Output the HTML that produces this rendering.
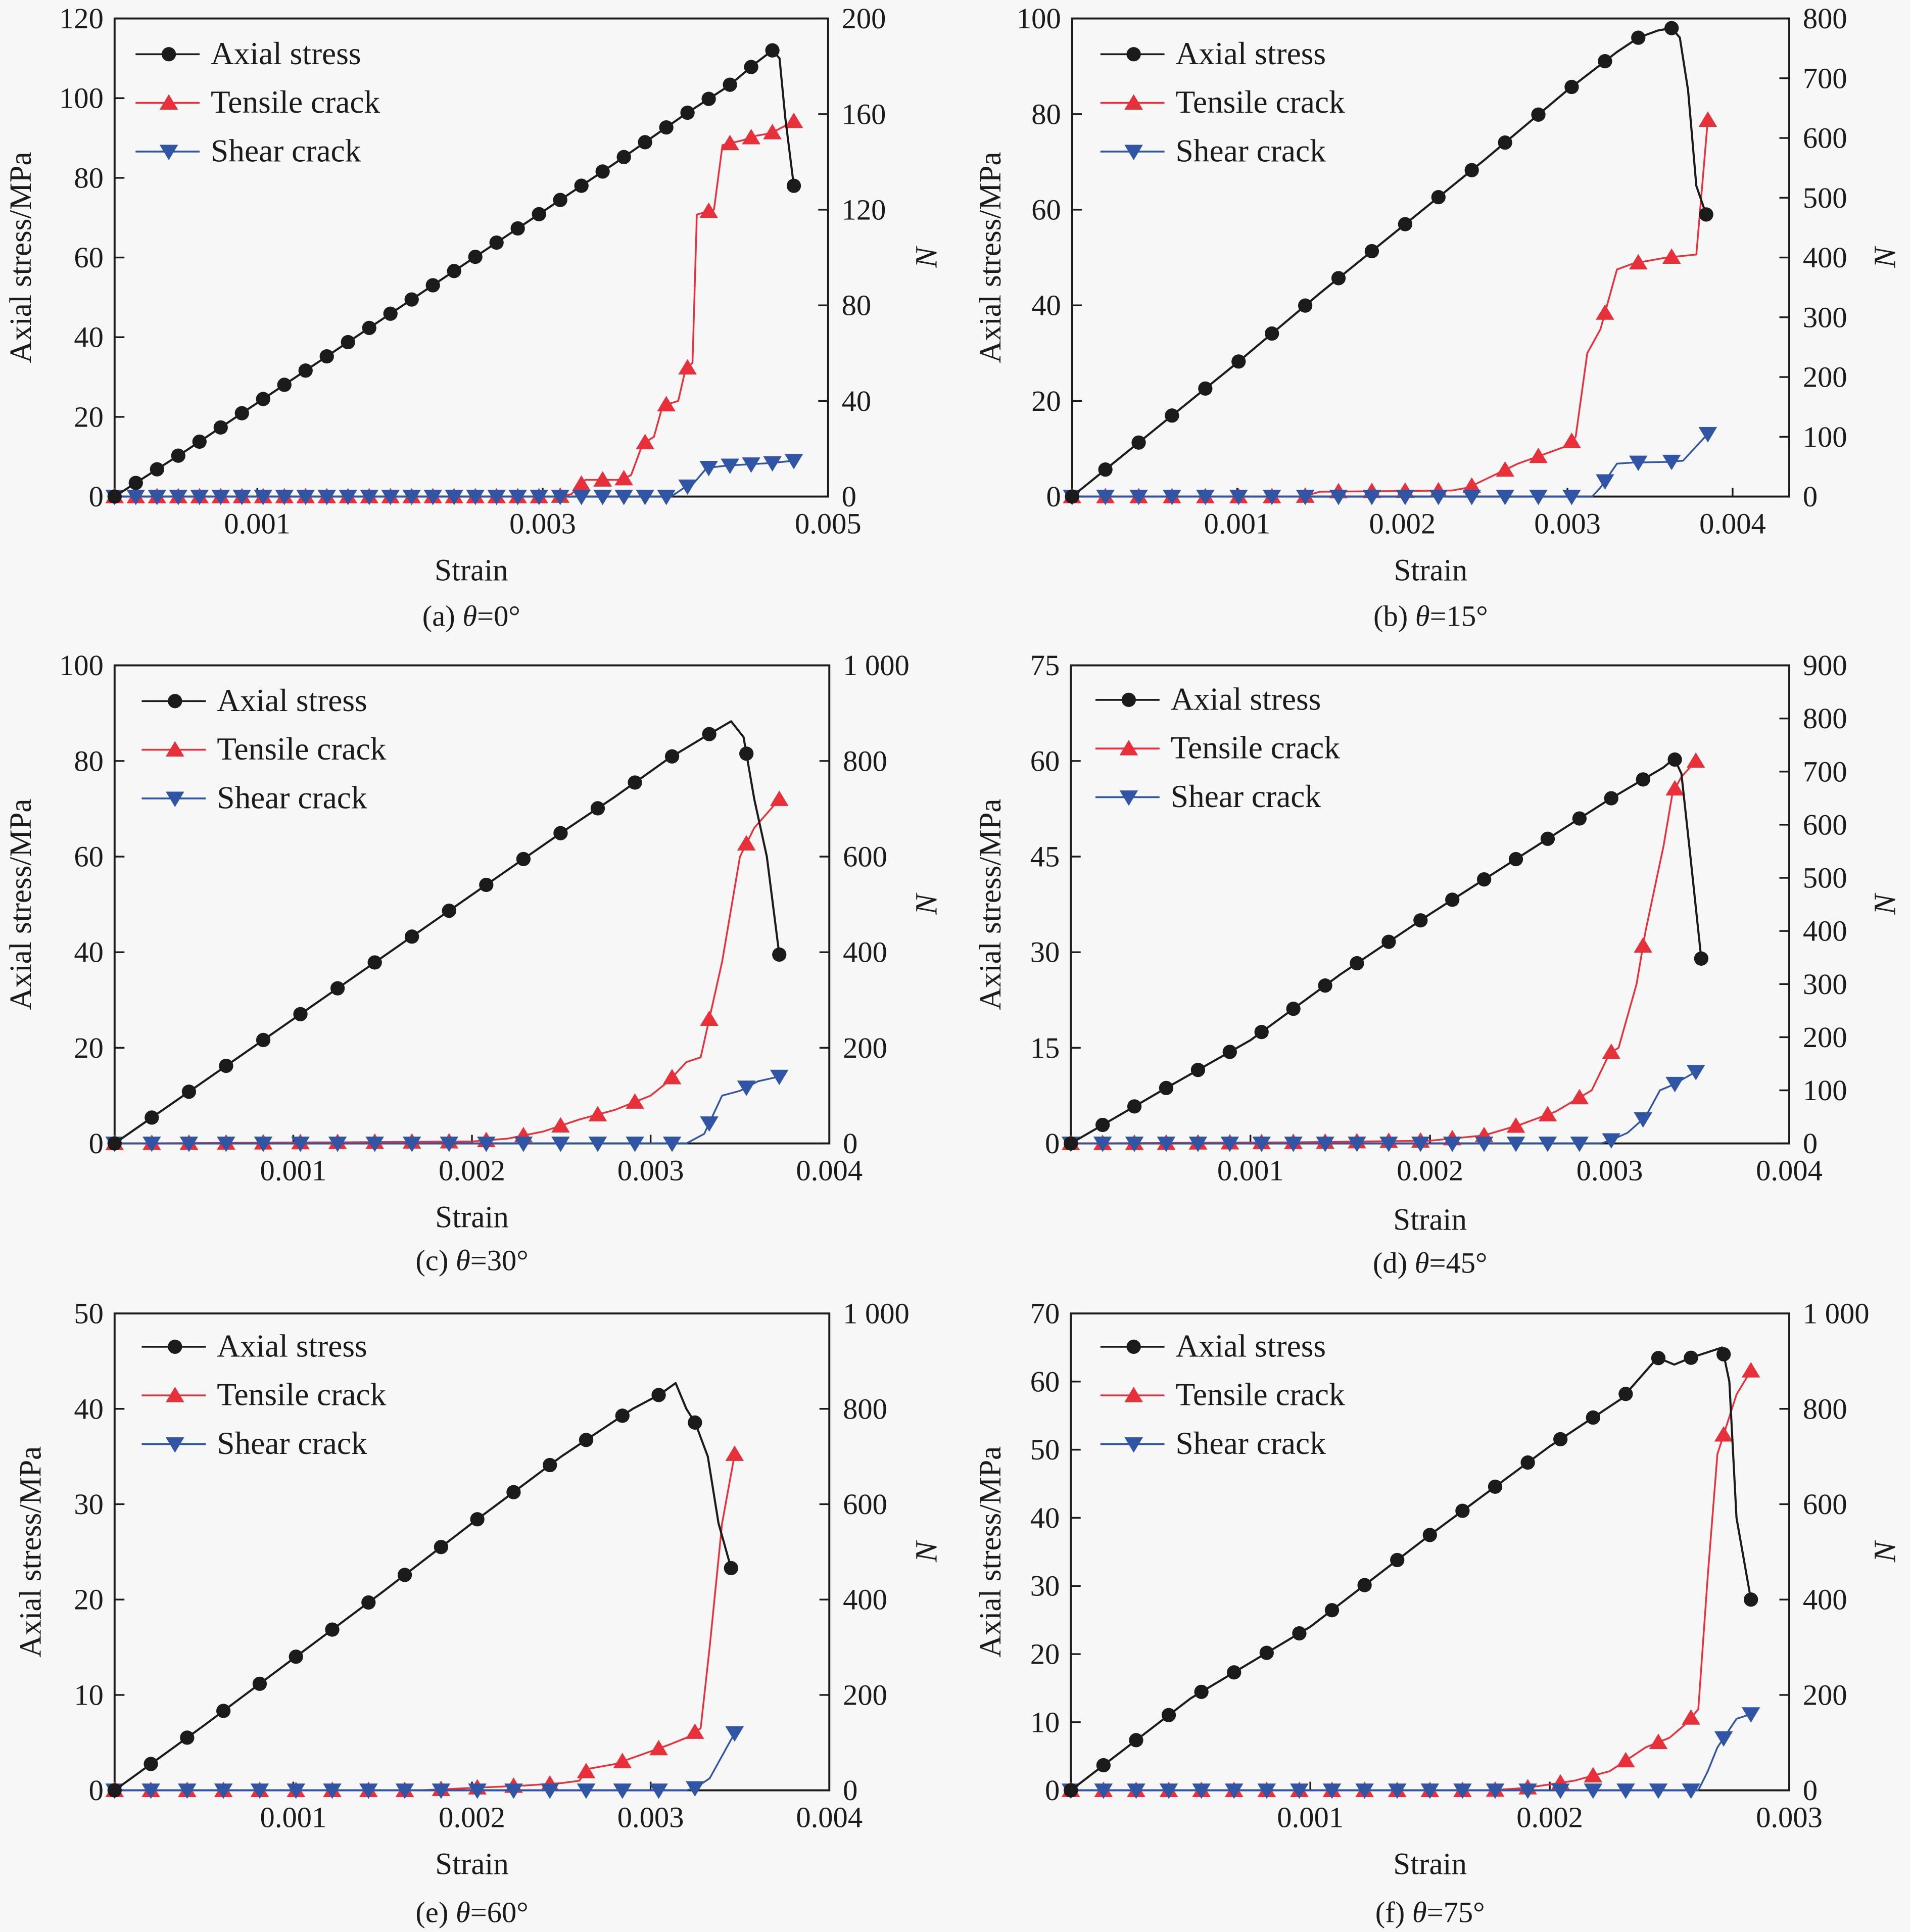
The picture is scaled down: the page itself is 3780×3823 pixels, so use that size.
<!DOCTYPE html>
<html><head><meta charset="utf-8"><style>
html,body{margin:0;padding:0;background:#f7f7f7;}
svg{display:block;}
svg text{font-family:"Liberation Serif","Times New Roman",serif;}
</style></head><body>
<svg id="chart" xmlns="http://www.w3.org/2000/svg" width="3780" height="3823" viewBox="0 0 1550 1568" preserveAspectRatio="none" font-family="Liberation Serif, serif">
<rect x="0" y="0" width="1550" height="1568" fill="#f7f7f7"/>
</svg>
<script>
// ===== Data (strain in units of 0.001) =====
const aStrainA=[0,0.5,1,1.5,2,2.5,3,3.5,4,4.3,4.5,4.61,4.66,4.7,4.76];
const aStressA=[0,11.5,23.5,35.5,47.5,59.5,71.5,83.5,96,103,109,112,110,95,78];
const tStrainA=[0,3.1,3.2,3.3,3.55,3.62,3.7,3.78,3.84,3.95,4.0,4.05,4.08,4.2,4.26,4.4,4.5,4.6,4.76];
const tCountA=[0,0,1,7,7,9,22,25,38,40,53,56,118,120,147,149,151,152,157];
const sStrainA=[0,3.9,4.0,4.05,4.15,4.3,4.6,4.76];
const sCountA=[0,0,4,5,12,13,14,15];

const aStrainB=[0,0.5,1,1.5,2,2.5,3,3.3,3.43,3.55,3.63,3.68,3.73,3.78,3.84];
const aStressB=[0,14,28,42.5,56.5,70.5,85,93,96,97.5,98,96,85,65,59];
const tStrainB=[0,1.4,1.5,2.3,2.4,2.55,2.7,2.85,3.0,3.05,3.12,3.2,3.3,3.4,3.6,3.78,3.85];
const tCountB=[0,0,8,10,15,35,55,70,85,100,240,280,380,390,400,405,630];
const sStrainB=[0,3.15,3.2,3.3,3.4,3.6,3.7,3.85];
const sCountB=[0,0,15,55,57,58,60,105];

const aStrainC=[0,0.5,1,1.5,2,2.5,2.8,3.1,3.3,3.45,3.52,3.58,3.65,3.72];
const aStressC=[0,13,26,39,52,65,72.5,80.5,85,88.3,85,72,60,39.5];
const tStrainC=[0,1.1,2.0,2.2,2.4,2.6,2.8,3.0,3.1,3.2,3.28,3.4,3.5,3.58,3.65,3.72];
const tCountC=[0,2,4,10,25,50,70,100,130,170,180,380,600,660,690,720];
const sStrainC=[0,3.2,3.3,3.4,3.5,3.6,3.72];
const sCountC=[0,0,20,100,110,130,140];

const aStrainD=[0,0.5,1,1.5,2,2.5,3,3.3,3.36,3.4,3.45,3.51];
const aStressD=[0,8.2,16.2,26.5,36,45,54,59,60.4,58,45,29];
const tStrainD=[0,1.2,2.0,2.3,2.5,2.7,2.9,3.0,3.05,3.15,3.2,3.3,3.35,3.4,3.48];
const tCountD=[0,2,5,15,35,60,100,170,180,300,400,560,660,690,720];
const sStrainD=[0,2.95,3.0,3.1,3.2,3.28,3.35,3.48];
const sCountD=[0,0,5,20,50,100,110,135];

const aStrainE=[0,0.5,1,1.5,2,2.5,2.9,3.05,3.14,3.2,3.25,3.32,3.38,3.45];
const aStressE=[0,6.8,13.8,20.8,28,35,40,41.5,42.7,40,38.5,35,28,23.3];
const tStrainE=[0,1.7,2.0,2.3,2.5,2.6,2.65,2.8,2.95,3.1,3.2,3.28,3.33,3.4,3.47];
const tCountE=[0,0,5,10,15,20,45,55,75,95,110,130,300,560,705];
const sStrainE=[0,3.2,3.25,3.33,3.47];
const sCountE=[0,0,5,25,120];

const aStrainF=[0,0.5,1,1.5,2,2.3,2.45,2.52,2.59,2.72,2.75,2.78,2.84];
const aStressF=[0,13.5,24,37.5,50.5,57.5,63.5,62.5,63.5,65,60,40,28];
const tStrainF=[0,1.75,1.9,2.1,2.25,2.4,2.5,2.57,2.62,2.66,2.7,2.78,2.84];
const tCountF=[0,0,5,20,40,90,110,140,170,450,705,830,880];
const sStrainF=[0,2.62,2.66,2.7,2.78,2.84];
const sCountF=[0,0,40,90,150,160];

// tick labels
const xTicksA=[1,3,5], xLabelsA=["0.001","0.003","0.005"];
const xTicksB=[1,2,3,4], xLabelsB=["0.001","0.002","0.003","0.004"];
const xTicks4=[1,2,3,4], xLabels4=["0.001","0.002","0.003","0.004"];
const xTicksF=[1,2,3], xLabelsF=["0.001","0.002","0.003"];
const yTicksA=[0,20,40,60,80,100,120], rTicksA=[0,40,80,120,160,200];
const yTicksB=[0,20,40,60,80,100], rTicksB=[0,100,200,300,400,500,600,700,800];
const yTicksC=[0,20,40,60,80,100], rTicksC=[0,200,400,600,800,1000];
const yTicksD=[0,15,30,45,60,75], rTicksD=[0,100,200,300,400,500,600,700,800,900];
const yTicksE=[0,10,20,30,40,50], rTicksE=[0,200,400,600,800,1000];
const yTicksF=[0,10,20,30,40,50,60,70], rTicksF=[0,200,400,600,800,1000];
const captionsTxt=["(a) ","(b) ","(c) ","(d) ","(e) ","(f) "];
const anglesTxt=["=0°","=15°","=30°","=45°","=60°","=75°"];

// ===== Layout =====
const panels=[
 {id:"a",L:93,R:672,T:15,B:403,xmax:5,ymax:120,rmax:200,step:0.1487,xt:xTicksA,xl:xLabelsA,yt:yTicksA,rt:rTicksA,
  a:[aStrainA,aStressA],t:[tStrainA,tCountA],s:[sStrainA,sCountA],lgX:110,lgY:44,yTitleX:17,nX:752,sy:462,cy:500},
 {id:"b",L:870,R:1452,T:15,B:403,xmax:4.343,ymax:100,rmax:800,step:0.2017,xt:xTicksB,xl:xLabelsB,yt:yTicksB,rt:rTicksB,
  a:[aStrainB,aStressB],t:[tStrainB,tCountB],s:[sStrainB,sCountB],lgX:893,lgY:44,yTitleX:804,nX:1530,sy:462,cy:500},
 {id:"c",L:93,R:673,T:540,B:928,xmax:4,ymax:100,rmax:1000,step:0.208,xt:xTicks4,xl:xLabels4,yt:yTicksC,rt:rTicksC,
  a:[aStrainC,aStressC],t:[tStrainC,tCountC],s:[sStrainC,sCountC],lgX:115,lgY:569,yTitleX:17,nX:752,sy:987,cy:1023},
 {id:"d",L:869,R:1452,T:540,B:928,xmax:4,ymax:75,rmax:900,step:0.177,xt:xTicks4,xl:xLabels4,yt:yTicksD,rt:rTicksD,
  a:[aStrainD,aStressD],t:[tStrainD,tCountD],s:[sStrainD,sCountD],lgX:889,lgY:568,yTitleX:804,nX:1530,sy:989,cy:1025},
 {id:"e",L:93,R:673,T:1066,B:1453,xmax:4,ymax:50,rmax:1000,step:0.203,xt:xTicks4,xl:xLabels4,yt:yTicksE,rt:rTicksE,
  a:[aStrainE,aStressE],t:[tStrainE,tCountE],s:[sStrainE,sCountE],lgX:115,lgY:1093,yTitleX:25,nX:752,sy:1512,cy:1552},
 {id:"f",L:869,R:1452,T:1066,B:1453,xmax:3,ymax:70,rmax:1000,step:0.1363,xt:xTicksF,xl:xLabelsF,yt:yTicksF,rt:rTicksF,
  a:[aStrainF,aStressF],t:[tStrainF,tCountF],s:[sStrainF,sCountF],lgX:893,lgY:1093,yTitleX:804,nX:1530,sy:1512,cy:1552}
];
const NS="http://www.w3.org/2000/svg";
const FF="Liberation Serif, Times New Roman, serif";
const svg=document.getElementById("chart");
function mk(tag,attrs,parent){const e=document.createElementNS(NS,tag);for(const k in attrs)e.setAttribute(k,attrs[k]);if(tag==="text")e.setAttribute("font-family",FF);(parent||svg).appendChild(e);return e;}
function interp(xs,ys,x){for(let i=1;i<xs.length;i++){if(x<=xs[i]){const f=(x-xs[i-1])/(xs[i]-xs[i-1]||1);return ys[i-1]+f*(ys[i]-ys[i-1]);}}return ys[ys.length-1];}
const BLACK="#1b1b1b",RED="#e8303a",BLUE="#2f55a4";
function circle(g,x,y){const c=mk("circle",{cx:x,cy:y,r:5.8,fill:BLACK},g);

}
function triUp(g,x,y){const p=mk("polygon",{points:`${x},${y-7} ${x-7.5},${y+5.5} ${x+7.5},${y+5.5}`,fill:RED},g);

}
function triDn(g,x,y){const p=mk("polygon",{points:`${x},${y+7} ${x-7.5},${y-5.5} ${x+7.5},${y-5.5}`,fill:BLUE},g);

}

panels.forEach((P,pi)=>{
 const g=mk("g",{});
 
 
 const X=v=>P.L+(P.R-P.L)*v/P.xmax;
 const Y=v=>P.B-(P.B-P.T)*v/P.ymax;
 const YR=v=>P.B-(P.B-P.T)*v/P.rmax;
 const fr=mk("rect",{x:P.L,y:P.T,width:P.R-P.L,height:P.B-P.T,fill:"none",stroke:BLACK,"stroke-width":1.6},g);
 
 
 P.xt.forEach((t,i)=>{
  const tk=mk("line",{x1:X(t),x2:X(t),y1:P.B,y2:P.B-7,stroke:BLACK,"stroke-width":1.4},g);
  
  
  const tx=mk("text",{x:X(t),y:P.B+30,"font-size":24,"text-anchor":"middle",fill:BLACK},g);
  tx.textContent=P.xl[i];
  
  
 });
 P.yt.forEach(t=>{
  const tk=mk("line",{x1:P.L,x2:P.L+8,y1:Y(t),y2:Y(t),stroke:BLACK,"stroke-width":1.4},g);
  
  
  const tx=mk("text",{x:P.L-9,y:Y(t)+8,"font-size":24,"text-anchor":"end",fill:BLACK},g);
  tx.textContent=String(t);
  
  
 });
 P.rt.forEach(t=>{
  const tk=mk("line",{x1:P.R,x2:P.R-8,y1:YR(t),y2:YR(t),stroke:BLACK,"stroke-width":1.4},g);
  
  
  const tx=mk("text",{x:P.R+11,y:YR(t)+8,"font-size":24,"text-anchor":"start",fill:BLACK},g);
  tx.textContent=t>=1000?"1 000":String(t);
  
  
 });
 const cyMid=(P.T+P.B)/2;
 const yt=mk("text",{x:P.yTitleX,y:cyMid,"font-size":25,"text-anchor":"middle",fill:BLACK,transform:`rotate(-90 ${P.yTitleX} ${cyMid})`,"dominant-baseline":"central"},g);
 yt.textContent="Axial stress/MPa";
 
 
 const nt=mk("text",{x:P.nX,y:cyMid,"font-size":25,"font-style":"italic","text-anchor":"middle",fill:BLACK,transform:`rotate(-90 ${P.nX} ${cyMid})`,"dominant-baseline":"central"},g);
 nt.textContent="N";
 
 
 const xt=mk("text",{x:(P.L+P.R)/2,y:P.sy+9,"font-size":25,"text-anchor":"middle",fill:BLACK},g);
 xt.textContent="Strain";
 
 
 const cp=mk("text",{x:(P.L+P.R)/2,y:P.cy+8,"font-size":24,"text-anchor":"middle",fill:BLACK},g);
 
 
 const t1=mk("tspan",{},cp);t1.textContent=captionsTxt[pi];
 const t2=mk("tspan",{"font-style":"italic"},cp);t2.textContent="θ";
 const t3=mk("tspan",{},cp);t3.textContent=anglesTxt[pi];

 const series=[
  {d:P.t,col:RED,sc:YR,mark:triUp,name:"tensile-crack-line",w:1.4},
  {d:P.s,col:BLUE,sc:YR,mark:triDn,name:"shear-crack-line",w:1.4},
  {d:P.a,col:BLACK,sc:Y,mark:circle,name:"axial-stress-line",w:1.7}
 ];
 series.forEach(S=>{
  const xs=S.d[0],ys=S.d[1];
  const pts=xs.map((x,i)=>X(x).toFixed(1)+","+S.sc(ys[i]).toFixed(1)).join(" ");
  const pl=mk("polyline",{points:pts,fill:"none",stroke:S.col,"stroke-width":S.w,"stroke-linejoin":"round"},g);
  
  
  const last=xs[xs.length-1];
  for(let k=0;k*P.step<last-0.04;k++){
   const sx=k*P.step;
   S.mark(g,X(sx),S.sc(interp(xs,ys,sx)));
  }
  S.mark(g,X(last),S.sc(ys[ys.length-1]));
 });

 const lg=mk("g",{},g);
 
 
 const entries=[["Axial stress",BLACK,circle],["Tensile crack",RED,triUp],["Shear crack",BLUE,triDn]];
 entries.forEach((e,i)=>{
  const yy=P.lgY+i*39.5;
  const ln=mk("line",{x1:P.lgX,x2:P.lgX+52,y1:yy,y2:yy,stroke:e[1],"stroke-width":1.5},lg);
  
  
  e[2](lg,P.lgX+27,yy);
  const tx=mk("text",{x:P.lgX+61,y:yy+8,"font-size":26,fill:BLACK},lg);
  tx.textContent=e[0];
  
  
 });
});
</script>
</body></html>
